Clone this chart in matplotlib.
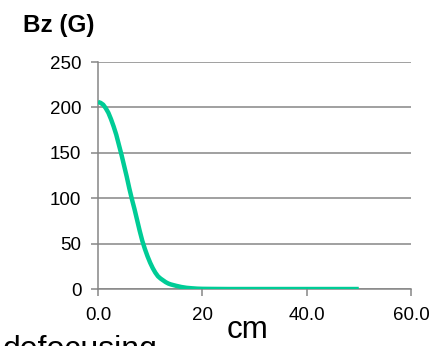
import matplotlib
matplotlib.use('Agg')
import matplotlib.pyplot as plt

plt.rcParams['font.family'] = ['Liberation Sans', 'DejaVu Sans']

# field profile along the axis
position_cm = [0, 0.5, 1, 1.5, 2, 2.5, 3, 3.5, 4, 4.5, 5, 5.5, 6, 6.5, 7, 7.5, 8, 8.5, 9, 9.5,
               10, 10.5, 11, 11.5, 12, 12.5, 13, 13.5, 14, 15, 16, 17, 18, 19, 20,
               22, 25, 30, 35, 40, 45, 50]
bz_gauss = [206, 205, 203, 199, 194, 187, 179, 170, 159, 148, 136, 124, 111, 99, 88, 76, 64, 53, 44, 36,
            29, 23, 18, 14, 11.5, 9.5, 7.5, 6, 5, 3.5, 2.2, 1.3, 0.8, 0.4, 0.2,
            0.1, 0, 0, 0, 0, 0, 0]

x_ticks = [0, 20, 40, 60]
x_tick_labels = ['0.0', '20', '40.0', '60.0']
y_ticks = [0, 50, 100, 150, 200, 250]

fig = plt.figure(figsize=(4.33, 3.46), dpi=100)
ax = fig.add_axes([0.2263, 0.1647, 0.7227, 0.6561])

ax.plot(position_cm, bz_gauss, color='#00CC96', linewidth=3.2, solid_capstyle='butt',
        solid_joinstyle='round', zorder=3)

ax.set_xlim(0, 60)
ax.set_ylim(0, 250)
ax.set_xticks(x_ticks)
ax.set_xticklabels(x_tick_labels)
ax.set_yticks(y_ticks)
ax.grid(axis='y', color='#868686', linewidth=1.1)
ax.set_axisbelow(True)

for side in ['top', 'right']:
    ax.spines[side].set_visible(False)
for side in ['left', 'bottom']:
    ax.spines[side].set_color('#868686')
    ax.spines[side].set_linewidth(1.1)

ax.tick_params(axis='both', colors='#868686', labelcolor='black', labelsize=13.5,
               length=5, width=1.1)
ax.tick_params(axis='y', pad=7)
ax.tick_params(axis='x', pad=8)

fig.text(0.053, 0.925, 'Bz (G)', fontsize=17.5, fontweight='bold', va='center', ha='left')
fig.text(0.571, 0.022, 'cm', fontsize=22.5, va='baseline', ha='center')
fig.text(0.005, -0.035, 'defocusing', fontsize=23, va='baseline', ha='left')

fig.savefig('out.png', dpi=100)
